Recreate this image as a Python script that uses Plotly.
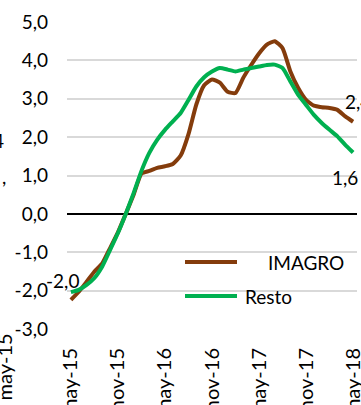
import plotly.graph_objects as go

# Monthly series, may-15 .. may-18 (year-on-year %, one decimal)
meses = ["ene", "feb", "mar", "abr", "may", "jun", "jul", "ago", "sep", "oct", "nov", "dic"]
periodos = [f"{meses[(4 + k) % 12]}-{15 + (4 + k) // 12}" for k in range(37)]

imagro = [-2.24, -2.03, -1.77, -1.50, -1.29, -0.89, -0.48, 0.00, 0.50, 1.05,
          1.12, 1.20, 1.24, 1.30, 1.52, 2.08, 2.85, 3.35, 3.50, 3.42,
          3.18, 3.15, 3.55, 3.88, 4.18, 4.41, 4.50, 4.32, 3.71, 3.28,
          2.97, 2.82, 2.78, 2.76, 2.71, 2.54, 2.40]

resto = [-2.04, -1.98, -1.85, -1.67, -1.37, -0.94, -0.50, 0.00, 0.54, 1.12,
         1.59, 1.93, 2.19, 2.41, 2.63, 2.97, 3.32, 3.56, 3.71, 3.80,
         3.76, 3.71, 3.76, 3.80, 3.84, 3.88, 3.89, 3.80, 3.45, 3.10,
         2.84, 2.58, 2.37, 2.19, 2.02, 1.80, 1.60]

tick_labels = periodos[::6]
y_ticks = [-3, -2, -1, 0, 1, 2, 3, 4, 5]

COL_IMAGRO = "#843C0C"
COL_RESTO = "#00B050"
FONT = "Lato"


def fmt(v):
    return f"{v:.1f}".replace(".", ",")


fig = go.Figure()
fig.add_trace(go.Scatter(x=periodos, y=imagro, mode="lines", name="IMAGRO",
                         line=dict(color=COL_IMAGRO, width=4, shape="spline", smoothing=0.5)))
fig.add_trace(go.Scatter(x=periodos, y=resto, mode="lines", name="Resto",
                         line=dict(color=COL_RESTO, width=4, shape="spline", smoothing=0.5)))

# value labels
fig.add_annotation(x=periodos[0], y=resto[0], text=fmt(resto[0]), showarrow=False,
                   xshift=-8, yshift=12, font=dict(size=19, color="#000"))
fig.add_annotation(x=periodos[-1], y=imagro[-1], text=fmt(imagro[-1]), showarrow=False,
                   xshift=5, yshift=20, font=dict(size=19, color="#000"))
fig.add_annotation(x=periodos[-1], y=resto[-1], text=fmt(resto[-1]), showarrow=False,
                   xshift=-8, yshift=-25, font=dict(size=19, color="#000"))

# legend drawn by hand
def px_x(p):
    return (p - 67) / 290


def px_y(p):
    return (329 - p) / 307


for y0, col, label, tx in [(262, COL_IMAGRO, "IMAGRO", 266), (296, COL_RESTO, "Resto", 243)]:
    fig.add_shape(type="line", xref="paper", yref="paper",
                  x0=px_x(185), x1=px_x(237), y0=px_y(y0), y1=px_y(y0),
                  line=dict(color=col, width=4))
    fig.add_annotation(xref="paper", yref="paper", x=px_x(tx), y=px_y(y0),
                       text=label, showarrow=False, xanchor="left", yanchor="middle",
                       font=dict(size=19, color="#000"))

# fragments of the neighbouring chart at the left edge
fig.add_annotation(xref="paper", yref="paper", x=px_x(6), y=px_y(140), text="4",
                   showarrow=False, xanchor="right", yanchor="middle", font=dict(size=19, color="#000"))
fig.add_annotation(xref="paper", yref="paper", x=px_x(8), y=px_y(176), text=",",
                   showarrow=False, xanchor="right", yanchor="middle", font=dict(size=19, color="#000"))
fig.add_annotation(xref="paper", yref="paper", x=px_x(3), y=px_y(332), text="may-15",
                   showarrow=False, textangle=-90, xanchor="center", yanchor="top",
                   font=dict(size=20, color="#000"))

fig.update_layout(
    width=361, height=405,
    margin=dict(l=67, r=4, t=22, b=76, autoexpand=False),
    paper_bgcolor="white", plot_bgcolor="white",
    showlegend=False,
    font=dict(family=FONT, size=19, color="#000"),
)
fig.update_xaxes(type="category", range=[-0.5, 36.5], tickmode="array",
                 tickvals=tick_labels, ticktext=tick_labels, tickangle=-90,
                 tickfont=dict(size=20), automargin=False,
                 showgrid=False, zeroline=False, showline=False, ticks="",
                 ticklabelstandoff=14)
fig.update_yaxes(range=[-3, 5], tickmode="array", tickvals=y_ticks,
                 ticktext=[fmt(v) for v in y_ticks], automargin=False,
                 showgrid=True, gridcolor="#D9D9D9", gridwidth=1.5,
                 zeroline=True, zerolinecolor="#000", zerolinewidth=1.5,
                 showline=False, ticks="", ticklabelstandoff=18)

fig.write_html("out.html")
